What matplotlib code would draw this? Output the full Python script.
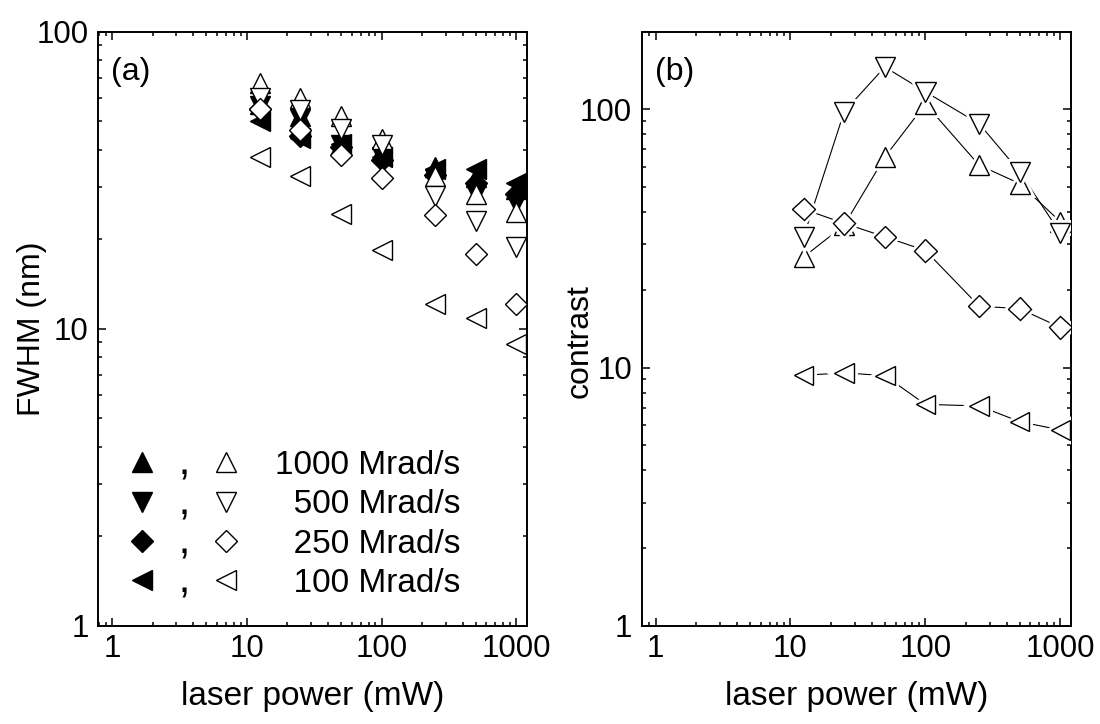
import numpy as np
import matplotlib
matplotlib.use('Agg')
import matplotlib.pyplot as plt
import matplotlib.patheffects as pe
from matplotlib.ticker import FuncFormatter, NullFormatter, LogLocator
from matplotlib.legend_handler import HandlerTuple
from matplotlib.lines import Line2D
from matplotlib.textpath import TextPath
from matplotlib.path import Path
from matplotlib.font_manager import FontProperties

plt.rcParams['font.family'] = ['Liberation Sans', 'DejaVu Sans']
plt.rcParams['font.size'] = 22.5
plt.rcParams['axes.linewidth'] = 1.4

# laser power (mW)
power = [12.5, 25, 50, 100, 250, 500, 1000]

# FWHM (nm), solid symbols
fwhm_fill_1000 = [57, 52, 42, 40, 35, 32.5, 29.5]
fwhm_fill_500 = [56, 51, 41.5, 38, 32, 28.5, 26.5]
fwhm_fill_250 = [55, 44.5, 41, 37, 33, 31, 28.5]
fwhm_fill_100 = [50, 44, 42, 38, 34.5, 34.5, 31]

# FWHM (nm), open symbols
fwhm_open_1000 = [67, 60, 52, 43.5, 32.6, 28.5, 24.8]
fwhm_open_500 = [60, 54.7, 47, 41.5, 28, 23, 18.9]
fwhm_open_250 = [55, 46.5, 38.5, 32.2, 24.2, 17.8, 12.1]
fwhm_open_100 = [37.8, 32.6, 24.3, 18.4, 12.1, 10.9, 8.9]

# contrast
contrast_1000 = [26.8, 35.6, 65.4, 105, 60.8, 51.6, 36.7]
contrast_500 = [32.1, 98, 146, 117, 88, 57.3, 33.1]
contrast_250 = [41.1, 36.2, 32.1, 28.4, 17.3, 16.9, 14.3]
contrast_100 = [9.33, 9.54, 9.3, 7.2, 7.1, 6.17, 5.73]

rates = ['1000 Mrad/s', '500 Mrad/s', '250 Mrad/s', '100 Mrad/s']
markers = ['^', 'v', 'D', '<']
sizes = {'^': 14.5, 'v': 14.5, 'D': 11.5, '<': 14}

fwhm_fill = [fwhm_fill_1000, fwhm_fill_500, fwhm_fill_250, fwhm_fill_100]
fwhm_open = [fwhm_open_1000, fwhm_open_500, fwhm_open_250, fwhm_open_100]
contrast = [contrast_1000, contrast_500, contrast_250, contrast_100]


def comma_marker():
    # comma glyph as a marker path, sitting below the marker centre
    tp = TextPath((0, 0), ',', size=1, prop=FontProperties(family='Liberation Sans'))
    v = tp.vertices.copy()
    real = v[tp.codes != Path.CLOSEPOLY] if tp.codes is not None else v
    xc = (real[:, 0].min() + real[:, 0].max()) / 2
    top, bot = real[:, 1].max(), real[:, 1].min()
    s = 0.59 / (top - bot)
    v[:, 0] = (v[:, 0] - xc) * s
    v[:, 1] = (v[:, 1] - top) * s - 0.41
    return Path(v, tp.codes)


def style_axes(ax, ylim):
    ax.set_xscale('log')
    ax.set_yscale('log')
    ax.set_xlim(0.79, 1200)
    ax.set_ylim(*ylim)
    fmt = FuncFormatter(lambda v, p: f'{v:g}')
    ax.xaxis.set_major_formatter(fmt)
    ax.yaxis.set_major_formatter(fmt)
    ax.xaxis.set_minor_formatter(NullFormatter())
    ax.yaxis.set_minor_formatter(NullFormatter())
    ax.xaxis.set_minor_locator(LogLocator(subs=np.arange(2, 10)))
    ax.yaxis.set_minor_locator(LogLocator(subs=np.arange(2, 10)))
    ax.tick_params(which='both', direction='in', top=True, right=True, width=1.1)
    ax.tick_params(which='major', length=5.8)
    ax.tick_params(which='minor', length=3.2)
    ax.tick_params(axis='x', pad=6)
    ax.tick_params(axis='y', pad=7)
    ax.set_xlabel('laser power (mW)', fontsize=24, labelpad=12)


fig = plt.figure(figsize=(11, 7.24), dpi=100)
ax1 = fig.add_axes([0.0894, 0.1358, 0.3897, 0.8204])
ax2 = fig.add_axes([0.5834, 0.1358, 0.3903, 0.8204])

# (a) FWHM
for ys, m in zip(fwhm_fill, markers):
    ax1.plot(power, ys, ls='none', marker=m, ms=sizes[m], mfc='k', mec='k', mew=1.0, zorder=3)
for ys, m in zip(fwhm_open, markers):
    ax1.plot(power, ys, ls='none', marker=m, ms=sizes[m], mfc='white', mec='k', mew=1.0, zorder=4)

style_axes(ax1, (1, 100))
ax1.set_ylabel('FWHM (nm)', fontsize=23)
ax1.yaxis.set_label_coords(-0.12, 0.5)
ax1.text(0.03, 0.958, '(a)', transform=ax1.transAxes, fontsize=23, va='top', ha='left')

comma = comma_marker()
handles = []
for m in markers:
    filled = Line2D([], [], ls='none', marker=m, ms=sizes[m], mfc='k', mec='k', mew=1.0)
    sep = Line2D([], [], ls='none', marker=comma, ms=24.5, mfc='k', mec='none', mew=0)
    hollow = Line2D([], [], ls='none', marker=m, ms=sizes[m], mfc='white', mec='k', mew=1.0)
    handles.append((filled, sep, hollow))
labels = [rates[0]] + ['\u2007' + r for r in rates[1:]]
ax1.legend(handles, labels, handler_map={tuple: HandlerTuple(ndivide=None, pad=0)},
           loc='lower left', bbox_to_anchor=(0.052, 0.045), frameon=False,
           borderpad=0, borderaxespad=0, handlelength=3.78, handletextpad=0.85,
           labelspacing=0.25, fontsize=24)

# (b) contrast
for ys, m in zip(contrast, markers):
    ax2.plot(power, ys, color='k', lw=0.8, zorder=2)
    ax2.plot(power, ys, ls='none', marker=m, ms=sizes[m], mfc='white', mec='k', mew=1.0, zorder=3,
             path_effects=[pe.withStroke(linewidth=5, foreground='white')])

style_axes(ax2, (1, 200))
ax2.set_ylabel('contrast', fontsize=23)
ax2.yaxis.set_label_coords(-0.11, 0.48)
ax2.text(0.03, 0.958, '(b)', transform=ax2.transAxes, fontsize=23, va='top', ha='left')

fig.savefig('out.png', dpi=100)
